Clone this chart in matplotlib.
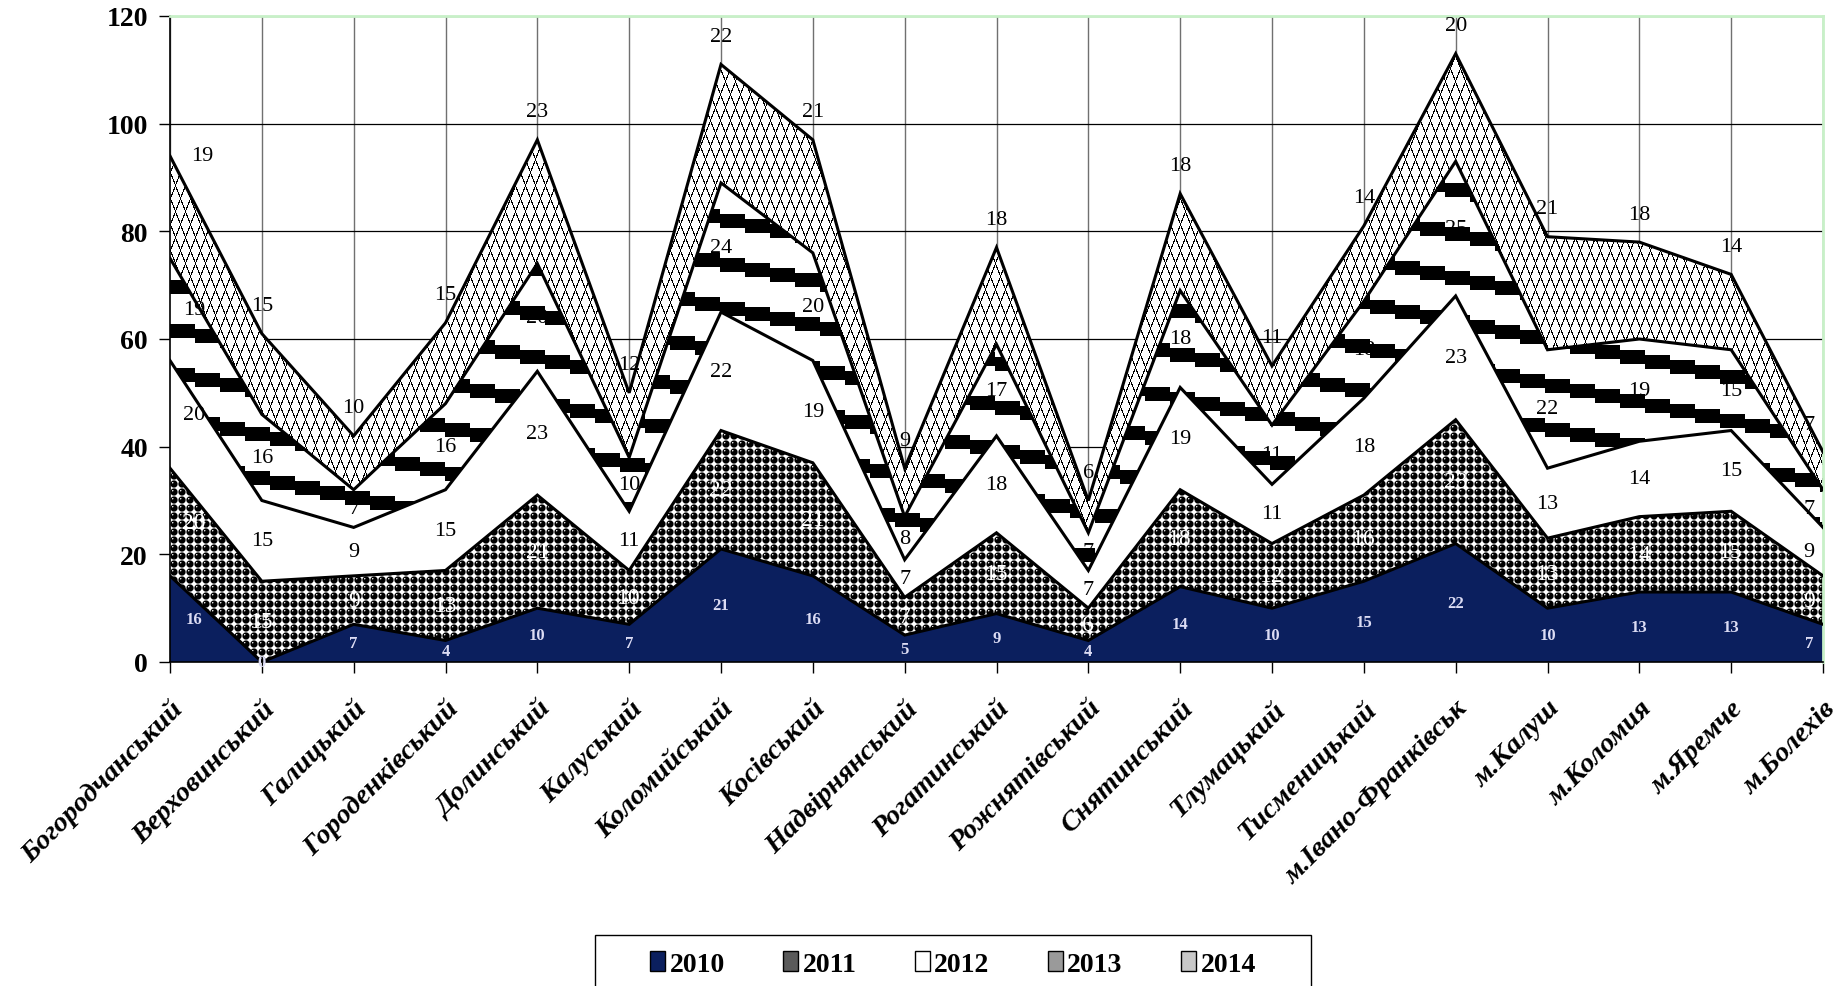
import numpy as np
import matplotlib.pyplot as plt
from matplotlib.patches import Patch, Rectangle

# дані: кількість по районах, 2010-2014
districts = ['Богородчанський', 'Верховинський', 'Галицький', 'Городенківський', 'Долинський',
             'Калуський', 'Коломийський', 'Косівський', 'Надвірнянський', 'Рогатинський',
             'Рожнятівський', 'Снятинський', 'Тлумацький', 'Тисменицький', 'м.Івано-Франківськ',
             'м.Калуш', 'м.Коломия', 'м.Яремче', 'м.Болехів']
years = ['2010', '2011', '2012', '2013', '2014']
v2010 = [16, 0, 7, 4, 10, 7, 21, 16, 5, 9, 4, 14, 10, 15, 22, 10, 13, 13, 7]
v2011 = [20, 15, 9, 13, 21, 10, 22, 21, 7, 15, 6, 18, 12, 16, 23, 13, 14, 15, 9]
v2012 = [20, 15, 9, 15, 23, 11, 22, 19, 7, 18, 7, 19, 11, 18, 23, 13, 14, 15, 9]
v2013 = [19, 16, 7, 16, 20, 10, 24, 20, 8, 17, 7, 18, 11, 18, 25, 22, 19, 15, 7]
v2014 = [19, 15, 10, 15, 23, 12, 22, 21, 9, 18, 6, 18, 11, 14, 20, 21, 18, 14, 7]

series = [v2010, v2011, v2012, v2013, v2014]
serif = 'Liberation Serif'

fig = plt.figure(figsize=(18.41, 9.87), dpi=100)
ax = fig.add_axes([170 / 1841, 1 - 663 / 987, 1653 / 1841, 646 / 987])

x = np.arange(len(districts))
data = np.array(series, dtype=float)
cum = np.vstack([np.zeros(len(x)), np.cumsum(data, axis=0)])

# текстури у пікселях осей
W, H = 1653, 646
yy, xx = np.mgrid[0:H, 0:W]

# 2011 - кульки
cx = (xx % 8) - 3.5
cy = (yy % 8) - 3.5
ball = np.clip(4.1 - np.hypot(cx, cy), 0, 1)
hl = np.clip(1.2 - np.hypot(cx + 1.3, cy + 1.3), 0, 1)
tex_balls = np.clip(1 - ball + 0.95 * hl, 0, 1)

# 2013 - сходинки
tex_steps = np.where(((yy - (xx // 25) * 5) % 44) < 14, 0.0, 1.0)

# 2014 - плетіння
u = xx % 10
v = yy % 26
p = 5 * (1 - np.abs(v - 13) / 13)
tex_weave = np.where((np.abs(u - p) < 0.6) | (np.abs(u - (10 - p)) < 0.6), 0.0, 1.0)

textures = [None, tex_balls, None, tex_steps, tex_weave]
solid = ['#0b1f5e', None, 'white', None, None]

for i in range(5):
    lo, hi = cum[i], cum[i + 1]
    if textures[i] is None:
        ax.fill_between(x, lo, hi, facecolor=solid[i], edgecolor='none', zorder=1)
    else:
        poly = ax.fill_between(x, lo, hi, facecolor='white', edgecolor='none', zorder=1)
        im = ax.imshow(textures[i], cmap='gray', vmin=0, vmax=1, extent=(0, 18, 0, 120),
                       origin='upper', aspect='auto', interpolation='none', zorder=1.5)
        im.set_clip_path(poly.get_paths()[0], ax.transData)
    ax.plot(x, hi, color='black', lw=2.2, zorder=4, solid_joinstyle='miter')

ax.set_xlim(0, 18)
ax.set_ylim(0, 120)

# підписи значень
lab_color = ['#dcdcf4', 'white', 'black', 'black', 'black']
lab_size = [12, 17, 16, 16, 16]
lab_weight = ['bold', 'normal', 'normal', 'normal', 'normal']
for i in range(5):
    for j in range(len(x)):
        dx = 24 if j == 0 else (-14 if j == len(x) - 1 else 0)
        if i == 4:
            yv = cum[i + 1][j]
            dy = 0 if j == 0 else 28
            dx = 32 if j == 0 else dx
        else:
            yv, dy = (cum[i][j] + cum[i + 1][j]) / 2, 0
        ax.annotate(str(series[i][j]), (x[j], yv), xytext=(dx, dy), textcoords='offset pixels',
                    ha='center', va='center', fontsize=lab_size[i], fontweight=lab_weight[i],
                    color=lab_color[i], family=serif, zorder=5, annotation_clip=False)

ax.set_yticks(np.arange(0, 121, 20))
ax.set_yticklabels([str(t) for t in range(0, 121, 20)], family=serif, fontweight='bold', fontsize=20)
ax.set_xticks(x)
ax.set_xticklabels(districts, rotation=45, ha='right', va='top', rotation_mode='anchor',
                   family=serif, fontweight='bold', fontstyle='italic', fontsize=20.5)
ax.tick_params(axis='y', direction='out', length=8, width=1, pad=8)
ax.tick_params(axis='x', direction='out', length=8, width=1, pad=16)

ax.set_axisbelow(True)
ax.xaxis.grid(True, color='#707070', lw=1)
ax.yaxis.grid(True, color='black', lw=0.9)
for s in ['left', 'bottom']:
    ax.spines[s].set_color('black')
    ax.spines[s].set_linewidth(1.2)
for s in ['top', 'right']:
    ax.spines[s].set_color('#c8f0c8')
    ax.spines[s].set_linewidth(2)

# легенда: рамка окремо, виходить за нижній край
fig.patches.append(Rectangle((595 / 1841, -0.05), 716 / 1841, 0.05 + 51 / 987,
                             transform=fig.transFigure, facecolor='white', edgecolor='black',
                             linewidth=1, zorder=0))
handles = [Patch(facecolor=c, edgecolor='black', linewidth=1)
           for c in ['#0b1f5e', '#5a5a5a', 'white', '#9a9a9a', '#c8c8c8']]
leg = fig.legend(handles, years, loc='center', bbox_to_anchor=(953 / 1841, 1 - 965 / 987),
                 ncol=5, frameon=False, prop=dict(family=serif, weight='bold', size=20),
                 handlelength=0.55, handleheight=0.75, handletextpad=0.15, columnspacing=2.1,
                 borderpad=0, borderaxespad=0)

fig.savefig('out.png', dpi=100, facecolor='white')
